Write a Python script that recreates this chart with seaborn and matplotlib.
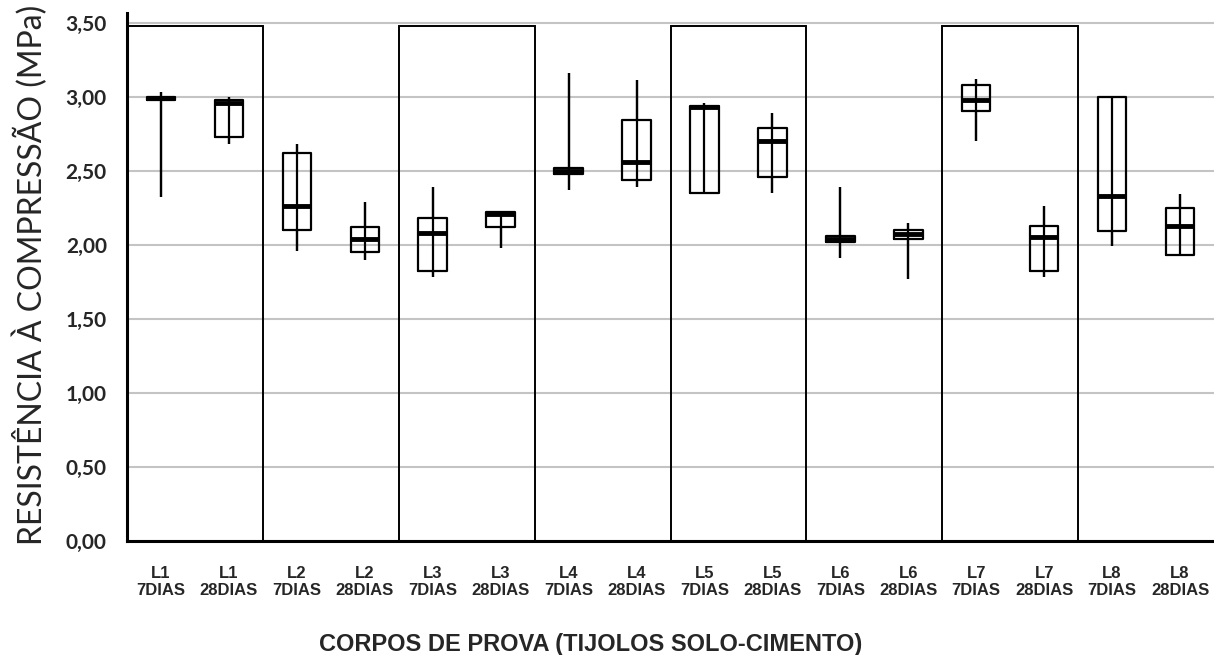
import matplotlib
matplotlib.use("Agg")
import matplotlib.pyplot as plt
from matplotlib.patches import Rectangle
import pandas as pd
import seaborn as sns

# dados (MPa)
lotes   = ['L1', 'L1', 'L2', 'L2', 'L3', 'L3', 'L4', 'L4',
           'L5', 'L5', 'L6', 'L6', 'L7', 'L7', 'L8', 'L8']
idades  = ['7', '28'] * 8
minimo  = [2.32, 2.68, 1.96, 1.90, 1.78, 1.98, 2.37, 2.39,
           2.35, 2.35, 1.91, 1.77, 2.70, 1.78, 1.99, 1.93]
q1      = [2.98, 2.73, 2.10, 1.95, 1.82, 2.12, 2.48, 2.44,
           2.35, 2.46, 2.02, 2.04, 2.90, 1.82, 2.09, 1.93]
mediana = [2.99, 2.96, 2.26, 2.04, 2.08, 2.21, 2.50, 2.56,
           2.93, 2.70, 2.04, 2.07, 2.98, 2.05, 2.33, 2.13]
q3      = [3.00, 2.975, 2.62, 2.12, 2.18, 2.22, 2.52, 2.84,
           2.94, 2.79, 2.06, 2.10, 3.08, 2.13, 3.00, 2.25]
maximo  = [3.03, 3.00, 2.68, 2.29, 2.39, 2.23, 3.16, 3.11,
           2.955, 2.89, 2.39, 2.15, 3.12, 2.26, 3.00, 2.34]
destaque = ['L1', 'L3', 'L5', 'L7']   # lotes com moldura
yticks = [0, 0.5, 1.0, 1.5, 2.0, 2.5, 3.0, 3.5]

rotulos = [f'{l}\n{d}DIAS' for l, d in zip(lotes, idades)]

# 5 pontos por corpo de prova -> quartis exatos com whis=(0, 100)
linhas = []
for r, a, b, c, d, e in zip(rotulos, minimo, q1, mediana, q3, maximo):
    for v in (a, b, c, d, e):
        linhas.append({'corpo': r, 'valor': v})
df = pd.DataFrame(linhas)

sns.set_style('white')
plt.rcParams['font.family'] = ['Liberation Sans', 'DejaVu Sans']

fig = plt.figure(figsize=(12.14, 6.55), dpi=100)
ax = fig.add_axes([127 / 1214, 114 / 655, 1087 / 1214, 528 / 655])

# linha min-max atravessando a caixa
ax.vlines(range(len(rotulos)), minimo, maximo, color='black', lw=1.6, zorder=3)

sns.boxplot(data=df, x='corpo', y='valor', order=rotulos, whis=(0, 100),
            fill=False, color='black', width=0.42, linewidth=1.6,
            showcaps=False, showfliers=False,
            medianprops={'linewidth': 3.5, 'color': 'black'},
            ax=ax)

for lote in destaque:
    i = lotes.index(lote)
    ax.add_patch(Rectangle((i - 0.5, 0), 2, 3.48, fill=False,
                           edgecolor='black', lw=1.4, zorder=4))

ax.set_xlim(-0.5, 15.37)
ax.set_ylim(0, 3.565)
ax.set_yticks(yticks)
ax.set_yticklabels([f'{v:.2f}'.replace('.', ',') for v in yticks],
                   fontfamily='Lato', fontweight='bold', fontsize=15)
ax.set_xticks(range(len(rotulos)))
ax.set_xticklabels(rotulos, fontweight='bold', fontsize=12, linespacing=1.2)
ax.set_xticks([i + 0.5 for i in range(-1, len(rotulos))], minor=True)

ax.tick_params(axis='x', which='major', length=0, pad=18)
ax.tick_params(axis='x', which='minor', length=4, color='#bfbfbf', width=1.2)
ax.tick_params(axis='y', length=6.5, color='#bfbfbf', width=1.5, pad=8)

ax.yaxis.grid(True, color='#c4c4c4', lw=1.5)
ax.set_axisbelow(True)
for s in ['top', 'right']:
    ax.spines[s].set_visible(False)
ax.spines['left'].set_linewidth(2.2)
ax.spines['bottom'].set_linewidth(2.2)
ax.spines['left'].set_color('black')
ax.spines['bottom'].set_color('black')

ax.set_xlabel('')
ax.set_ylabel('')
fig.text(30 / 1214, 1 - 275 / 655, 'RESISTÊNCIA À COMPRESSÃO (MPa)',
         rotation=90, ha='center', va='center', fontfamily='Lato', fontsize=23)
fig.text(591 / 1214, 1 - 644 / 655, 'CORPOS DE PROVA (TIJOLOS SOLO-CIMENTO)',
         ha='center', va='center', fontweight='bold', fontsize=17)

fig.savefig('out.png', dpi=100)
plt.close()
